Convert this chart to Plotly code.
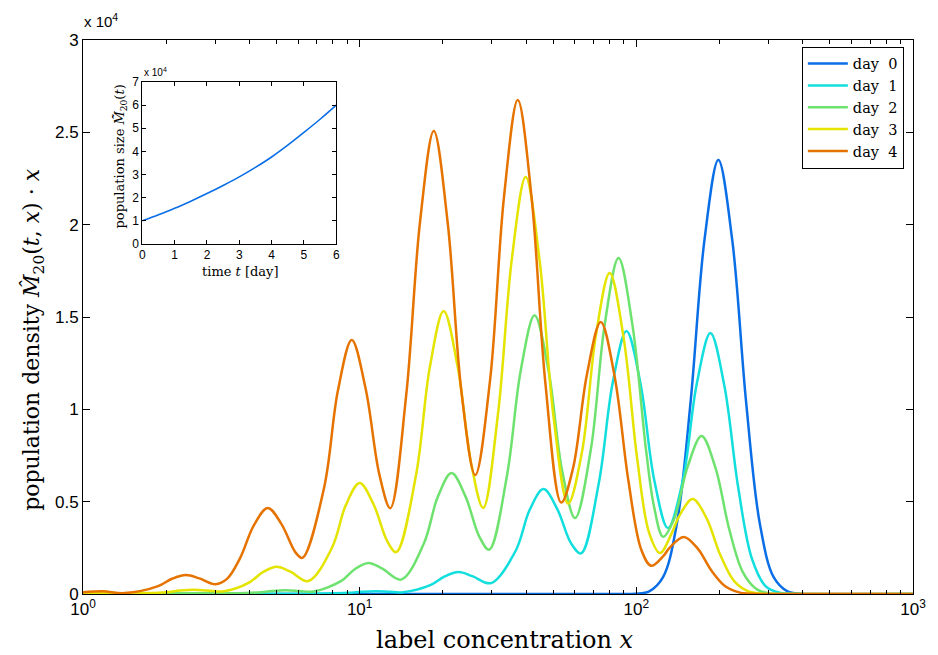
import plotly.graph_objects as go

# ---------------- data ----------------
day0_x = [1.0, 82.77, 99.19, 111.3, 124.9, 140.1, 157.2, 176.4, 197.9, 222.0, 249.1,
          279.5, 313.6, 351.9, 394.9, 465.5, 1000.0]
day0_y = [0, 0, 16, 148, 917, 3807, 10458, 19200, 23500, 19200, 10458,
          3807, 917, 148, 16, 0, 0]

day1_x = [1.0, 5.957, 9.063, 10.17, 11.41, 12.80, 14.36, 18.08, 20.29, 22.76, 25.54,
          29.85, 36.67, 41.14, 46.16, 51.79, 58.11, 63.10, 73.16, 82.10, 92.11,
          103.4, 116.0, 130.1, 147.2, 165.2, 185.3, 207.9, 233.3, 261.7, 293.7,
          329.5, 394.8, 1000.0]
day1_y = [0, 10, 62, 120, 150, 120, 96, 492, 952, 1190, 968,
          590, 2355, 4548, 5680, 4600, 2742, 2200, 6003, 11414, 14240,
          11439, 6191, 3570, 6149, 11351, 14130, 11304, 5793, 1908, 410,
          70, 5, 0]

day2_x = [1.0, 2.705, 3.405, 4.286, 4.809, 5.396, 6.054, 6.794, 8.555, 9.599, 10.77,
          12.08, 14.13, 17.06, 19.15, 21.48, 24.10, 27.04, 29.37, 34.05, 38.21,
          42.87, 48.10, 53.97, 60.06, 68.50, 76.87, 86.24, 96.76, 108.6, 116.0,
          124.9, 136.7, 153.4, 172.1, 193.1, 216.7, 243.1, 272.8, 306.0, 394.8, 1000.0]
day2_y = [15, 40, 35, 85, 160, 200, 167, 131, 695, 1344, 1680,
          1370, 780, 2735, 5247, 6550, 5299, 3124, 2400, 6381, 12106,
          15100, 12140, 6646, 4110, 7836, 14602, 18190, 14585, 7706, 4700,
          3100, 4034, 6911, 8550, 6840, 3506, 1154, 248, 33, 0, 0]

day3_x = [1.0, 1.259, 1.735, 1.995, 2.239, 2.512, 2.818, 3.241, 3.981, 4.467, 5.012,
          5.623, 6.521, 7.943, 8.913, 10.0, 11.22, 12.59, 13.56, 15.98, 17.93,
          20.12, 22.57, 25.33, 27.95, 31.62, 35.48, 39.81, 44.67, 50.12, 56.70,
          63.62, 71.38, 80.09, 89.86, 100.8, 111.3, 121.8, 134.5, 142.4, 159.8,
          179.3, 201.2, 225.7, 253.3, 284.2, 363.6, 1000.0]
day3_y = [60, 40, 50, 94, 184, 230, 190, 150, 615, 1184, 1480,
          1207, 700, 2507, 4814, 6010, 4859, 2847, 2270, 6431, 12276,
          15320, 12360, 7013, 4660, 9754, 18134, 22580, 18121, 9693, 4900,
          7691, 13979, 17380, 13924, 7275, 3300, 2220, 3313, 4180, 5140,
          4112, 2107, 694, 149, 20, 0, 0]

day4_x = [1.0, 1.179, 1.413, 1.868, 2.096, 2.351, 2.638, 3.010, 3.322, 3.697, 4.149,
          4.655, 5.223, 5.860, 6.208, 7.437, 8.345, 9.363, 10.51, 11.79, 12.90,
          14.72, 16.52, 18.53, 20.79, 23.33, 26.17, 29.61, 33.23, 37.28, 41.83,
          46.93, 53.53, 59.06, 66.28, 74.36, 83.43, 93.61, 104.2, 113.1, 124.9,
          132.3, 148.4, 166.5, 186.8, 209.6, 235.2, 263.9, 335.0, 1000.0]
day4_y = [100, 150, 50, 426, 824, 1030, 845, 530, 830, 1944, 3733,
          4660, 3773, 2255, 1960, 5755, 11015, 13750, 11115, 6450, 4650,
          10724, 20120, 25070, 20144, 10950, 6440, 11600, 21483, 26750, 21457,
          11395, 4950, 6815, 11888, 14730, 11796, 6129, 2400, 1530, 2039,
          2529, 3090, 2472, 1270, 417, 88, 12, 0, 0]

series_names = ["day\u00a0\u00a00", "day\u00a0\u00a01", "day\u00a0\u00a02",
                "day\u00a0\u00a03", "day\u00a0\u00a04"]
series_x = [day0_x, day1_x, day2_x, day3_x, day4_x]
series_y = [day0_y, day1_y, day2_y, day3_y, day4_y]
colors = ["#0a6ee6", "#12dede", "#6ee26e", "#e4e400", "#e67300"]

# inset: total population size over time
t_days = [0, 0.5, 1, 1.5, 2, 2.5, 3, 3.5, 4, 4.5, 5, 5.5, 6]
pop_size = [10000, 12600, 15400, 18500, 21800, 25300, 29000, 33100, 37600,
            42700, 48200, 53900, 60000]

main_yticks = [0, 5000, 10000, 15000, 20000, 25000, 30000]
main_yticklabels = ["0", "0.5", "1", "1.5", "2", "2.5", "3"]
main_xticks = [1, 10, 100, 1000]
main_xticklabels = ["10<sup>0</sup>", "10<sup>1</sup>", "10<sup>2</sup>", "10<sup>3</sup>"]
minor_xticks = [m * d for d in (1, 10, 100) for m in range(2, 10)]
inset_yticks = [0, 10000, 20000, 30000, 40000, 50000, 60000, 70000]
inset_yticklabels = ["0", "1", "2", "3", "4", "5", "6", "7"]

# ---------------- figure ----------------
fig = go.Figure()
for name, xs, ys, c in zip(series_names, series_x, series_y, colors):
    fig.add_trace(go.Scatter(
        x=xs, y=ys, mode="lines", name=name,
        line=dict(color=c, width=2.5, shape="spline", smoothing=1.0),
        xaxis="x", yaxis="y"))

fig.add_trace(go.Scatter(
    x=t_days, y=pop_size, mode="lines", showlegend=False,
    line=dict(color="#0a6ee6", width=1.6, shape="spline"),
    xaxis="x2", yaxis="y2"))

sans = "Liberation Sans"
serif = "DejaVu Serif"

axis_common = dict(showline=True, linecolor="black", linewidth=1, mirror="ticks",
                   ticks="inside", tickcolor="black", showgrid=False, zeroline=False)

# the page body offsets the figure by 8px, so size and margins compensate
fig.update_layout(
    width=930, height=647,
    margin=dict(l=75, r=16, t=32, b=61),
    paper_bgcolor="white", plot_bgcolor="white",
    showlegend=True,
    xaxis=dict(type="log", range=[0, 3], domain=[0, 1], anchor="y",
               tickmode="array", tickvals=main_xticks, ticktext=main_xticklabels,
               ticklen=7, tickfont=dict(family=sans, size=17, color="black"),
               minor=dict(tickmode="array", tickvals=minor_xticks, ticks="inside",
                          ticklen=4, tickcolor="black", showgrid=False),
               **axis_common),
    yaxis=dict(range=[0, 30000], domain=[0, 1], anchor="x",
               tickmode="array", tickvals=main_yticks, ticktext=main_yticklabels,
               ticklen=7, tickfont=dict(family=sans, size=17, color="black"),
               **axis_common),
    xaxis2=dict(range=[0, 6], domain=[0.0715, 0.3051], anchor="y2",
                tickmode="linear", tick0=0, dtick=1, ticklen=4,
                tickfont=dict(family=sans, size=12, color="black"),
                **axis_common),
    yaxis2=dict(range=[0, 70000], domain=[0.6318, 0.9242], anchor="x2",
                tickmode="array", tickvals=inset_yticks, ticktext=inset_yticklabels,
                ticklen=4, tickfont=dict(family=sans, size=12, color="black"),
                **axis_common),
    legend=dict(x=0.989, y=0.988, xanchor="right", yanchor="top",
                bgcolor="white", bordercolor="black", borderwidth=1,
                font=dict(family=serif, size=14.5, color="black"),
                tracegroupgap=0, itemwidth=40),
    annotations=[
        dict(text="x 10<sup>4</sup>", xref="paper", yref="paper", x=-0.001, y=1.036,
             xanchor="left", yanchor="middle", showarrow=False,
             font=dict(family=sans, size=15, color="black")),
        dict(text="x 10<sup>4</sup>", xref="paper", yref="paper", x=0.0715, y=0.9422,
             xanchor="left", yanchor="middle", showarrow=False,
             font=dict(family=sans, size=10, color="black")),
        dict(text="label concentration <i>x</i>", xref="paper", yref="paper",
             x=0.509, y=-0.083, xanchor="center", yanchor="middle", showarrow=False,
             font=dict(family=serif, size=24, color="black")),
        dict(text="population density <i>M\u0302</i><sub>20</sub>(<i>t</i>, <i>x</i>) \u00b7 <i>x</i>",
             xref="paper", yref="paper", x=-0.0596, y=0.458, textangle=-90,
             xanchor="center", yanchor="middle", showarrow=False,
             font=dict(family=serif, size=22, color="black")),
        dict(text="time <i>t</i> [day]", xref="paper", yref="paper",
             x=0.1895, y=0.583, xanchor="center", yanchor="middle", showarrow=False,
             font=dict(family=serif, size=13, color="black")),
        dict(text="population size <i>M\u0302\u0303</i><sub>20</sub>(<i>t</i>)",
             xref="paper", yref="paper", x=0.0453, y=0.789, textangle=-90,
             xanchor="center", yanchor="middle", showarrow=False,
             font=dict(family=serif, size=13, color="black")),
    ],
)

fig.write_html("out.html")
